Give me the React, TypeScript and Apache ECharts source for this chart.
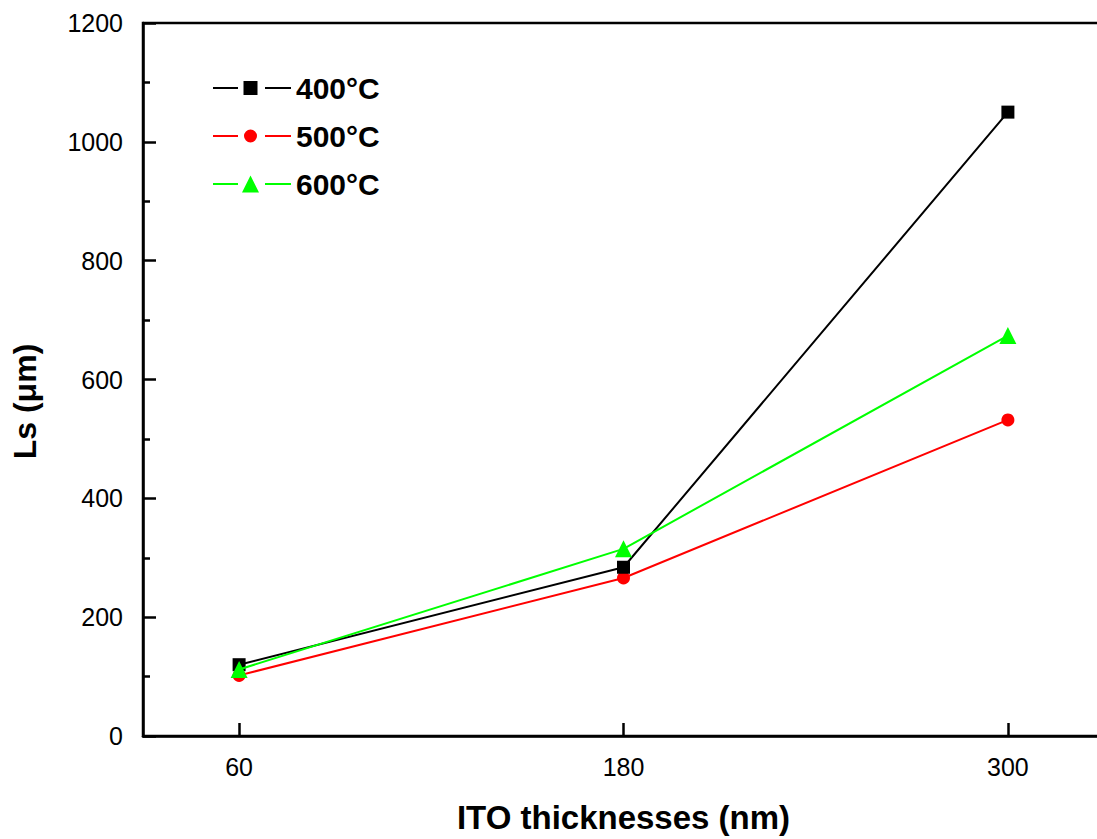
import React, { useEffect, useRef } from "react";
import * as echarts from "echarts";

const thickness = [60, 180, 300];
const xTicks = [60, 180, 300];
const ls400 = [120, 284, 1050];
const ls500 = [102, 266, 532];
const ls600 = [112, 315, 674];
const seriesNames = ["400°C", "500°C", "600°C"];
const seriesColors = ["#000000", "#ff0000", "#00ff00"];
const seriesSymbols = ["rect", "circle", "triangle"];

// legend icons: line — gap — marker — gap — line (bbox 78 x 18)
const bboxExt = "M0 0 M78 18 ";
const lines = "M0 8 L25 8 L25 10 L0 10 Z M52 8 L78 8 L78 10 L52 10 Z ";
const legendIcons = [
  "path://" + bboxExt + lines + "M30.5 2 L44.5 2 L44.5 16 L30.5 16 Z",
  "path://" + bboxExt + lines + "M31 9 A6.5 6.5 0 1 0 44 9 A6.5 6.5 0 1 0 31 9 Z",
  "path://" + bboxExt + lines + "M37.5 0.5 L46 17.5 L29 17.5 Z",
];

export default function App() {
  const ref = useRef<HTMLDivElement>(null);
  useEffect(() => {
    if (!ref.current) return;
    const chart = echarts.init(ref.current, null, { renderer: "svg" });
    const datasets = [ls400, ls500, ls600];
    const font = "'Liberation Sans', Arial, sans-serif";
    chart.setOption({
      animation: false,
      backgroundColor: "#ffffff",
      textStyle: { fontFamily: font },
      grid: {
        left: 143,
        top: 23,
        bottom: 100,
        right: 0,
        show: true,
        borderColor: "#000",
        borderWidth: 2.5,
        containLabel: false,
      },
      legend: {
        left: 208,
        top: 68,
        orient: "vertical",
        itemWidth: 78,
        itemHeight: 18,
        itemGap: 18,
        symbolKeepAspect: false,
        itemStyle: { borderWidth: 0 },
        textStyle: {
          fontFamily: font,
          fontSize: 30,
          fontWeight: "bold",
          color: "#000",
        },
        data: seriesNames.map((name, i) => ({
          name,
          icon: legendIcons[i],
          itemStyle: { color: seriesColors[i], borderWidth: 0 },
        })),
      },
      xAxis: {
        type: "value",
        min: 30,
        max: 330,
        name: "ITO thicknesses (nm)",
        nameLocation: "middle",
        nameGap: 65,
        nameTextStyle: {
          fontFamily: font,
          fontSize: 33,
          fontWeight: "bold",
          color: "#000",
        },
        axisLine: { show: true, lineStyle: { color: "#000", width: 2.5 } },
        axisTick: {
          show: true,
          inside: true,
          length: 13,
          customValues: xTicks,
          lineStyle: { color: "#000", width: 2.5 },
        },
        axisLabel: {
          customValues: xTicks,
          fontFamily: font,
          fontSize: 25,
          color: "#000",
          margin: 18,
        },
        splitLine: { show: false },
      },
      yAxis: {
        type: "value",
        min: 0,
        max: 1200,
        interval: 200,
        name: "Ls (μm)",
        nameLocation: "middle",
        nameGap: 102,
        nameTextStyle: {
          fontFamily: font,
          fontSize: 32,
          fontWeight: "bold",
          color: "#000",
          padding: [0, 44, 0, 0],
        },
        axisLine: { show: true, lineStyle: { color: "#000", width: 2.5 } },
        axisTick: {
          show: true,
          inside: true,
          length: 13,
          lineStyle: { color: "#000", width: 2.5 },
        },
        minorTick: {
          show: true,
          splitNumber: 2,
          length: 7,
          lineStyle: { color: "#000", width: 2.5 },
        },
        axisLabel: {
          fontFamily: font,
          fontSize: 25,
          color: "#000",
          margin: 20,
          formatter: (v: number) => String(v),
        },
        splitLine: { show: false },
      },
      series: seriesNames.map((name, i) => ({
        name,
        type: "line",
        data: thickness.map((x, j) => [x, datasets[i][j]]),
        symbol: seriesSymbols[i],
        symbolSize: i === 2 ? 17 : 13,
        lineStyle: { color: seriesColors[i], width: 2 },
        itemStyle: { color: seriesColors[i] },
        z: i === 2 ? 4 : i === 0 ? 3 : 2,
      })),
    });
    return () => chart.dispose();
  }, []);
  return (
    <div
      style={{
        position: "absolute",
        left: 0,
        top: 0,
        width: 1097,
        height: 839,
        overflow: "hidden",
        background: "#fff",
      }}
    >
      <div ref={ref} style={{ width: 1104, height: 839 }} />
    </div>
  );
}
